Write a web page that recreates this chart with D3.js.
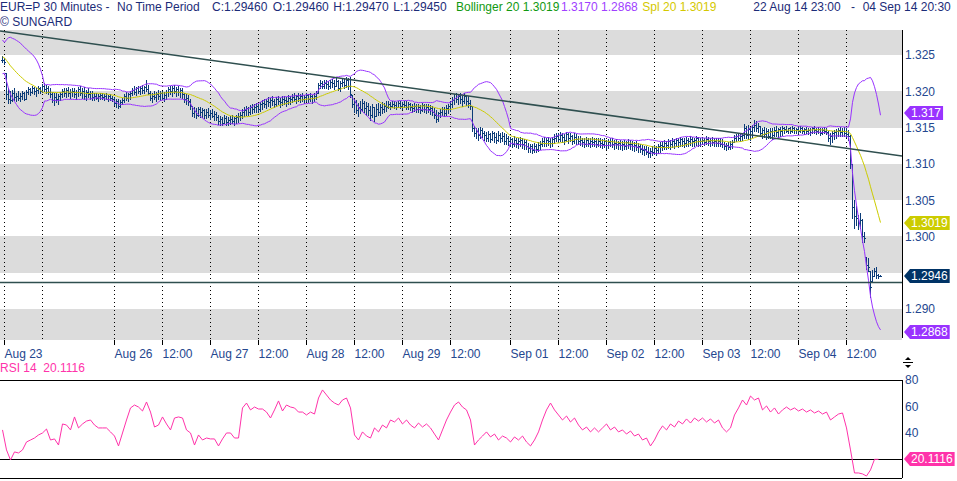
<!DOCTYPE html>
<html>
<head>
<meta charset="utf-8">
<script src="https://cdn.jsdelivr.net/npm/d3@7"></script>
<style>
  body { margin: 0; background: #fff; }
  svg { display: block; font-family: "Liberation Sans", Arial, sans-serif; }
</style>
</head>
<body>
<div id="chart-container"></div>
<script>
// Prices are kept in pips above 1.2900 (1 pip = 0.0001), one entry per 30 minute bar
var BASE = 1.29, PIP = 0.0001;

var highs = [
  348,346,325,305,300,302,304,298,300,297,301,299,302,306,305,307,306,305,307,306,310,311,309,308,305,299,297,298,296,299,
  303,305,304,306,303,305,304,302, 306,307,305,306,302,304,301,300, 297,298,296,297,298,296,297,295,296,294,
  292,290,289,288,291, 296,299,298,301, 305,307,306,308,307,309,308,315,309, 300,298,301,299,302,300,301,299,302,
  306,308,307,309,306,308,305,304, 298,296,295,290, 280,278,277,279,278, 277,276,275,277,274,276,273,272,
  267,266,265,267,266,264,266,267,265,268,270,272, 275,278,280,279,281,283,282,284,283,285,
  288,290,289,292,291,293,290,292,294,291,293,294,292,295,293, 296,297,295,298,296,297,295,298,296,297,295,298,300,
  312,315,314,316,315,314,316, 317,315,318,316,314,319,317,320,318, 320, 295,290,288,284,286,289,287,285,
  284,280,283,279,282,284,283,285,284,286, 286,285,287,286,285,287,286,285,287,286,285,284,
  283,284,282,283,281,284,283,282,283,281,280, 277,274,272,276, 279,278,281,283,286,
  292,296,298,295,297,294,297,295,293,288, 280, 252,250,249,251,250, 246,244,245,243,246,244,242,245,243,244,242,241,
  238,237,236,238,236,235,237,235,234,233, 229,228,227,229,228,230,232, 235,237,236,237,235,237,
  241,243,242,244,243,241,244,242,243,240,242,241,239,238, 236,235,237,236,235,237,236,235,236,235,
  234,235,233,234,236,235,233,234,232,233,231,233,232,234,233,231,230,231,229,228, 226,224,225,223,222,224,226,225,228,230,
  231,233,232,234,233,235,234,236,235,237,236,235,237,236,238,237,236,238,237,236, 237,236,238,237,236,237,236,235,236,235,234,
  230,229,230,231,233, 240,241,242,241,243, 255,252,253,251,254, 260,259,257,
  252,250,251,249,248,250,249,251,252,250,251,252, 251,252,250,251,252,251,250,251,252,
  251,250,251,250,249,251,252,250,251,249,250,251,250, 246,243,245,247,248, 250,251,250,251,249,247,
  240,200,150,142,130,133,124,106,72,70,52,54,57,58,48,47
];

var lows = [
  340,338,290,284,284,286,288,286,288,286,289,288,290,296,295,297,296,294,298,297,299,300,298,296,292,285,281,285,283,288,
  292,293,292,294,291,293,292,290, 293,295,291,290,288,292,289,288, 288,289,287,289,290,288,289,287,288,286,
  281,278,277,279,282, 285,288,287,290, 295,296,295,297,296,298,297,300,296, 288,285,289,287,290,288,289,286,290,
  294,296,293,297,294,295,292,291, 285,282,281,276, 266,264,263,266,265, 264,263,263,265,262,264,261,260,
  255,253,254,256,254,253,255,256,254,257,258,260, 263,266,268,267,269,270,271,272,271,273,
  276,278,277,280,279,281,278,280,282,279,281,283,280,283,282, 285,286,284,287,285,286,284,287,285,286,284,287,289,
  298,305,304,305,304,303,305, 306,303,307,302,300,307,304,306,303, 292, 278,272,270,266,270,273,271,268,
  268,261,265,259,266,268,267,270,271,273, 277,276,278,277,276,278,277,276,278,276,275,274,
  272,273,271,272,270,273,271,270,272,269,268, 263,258,259,264, 267,266,268,270,273,
  279,283,285,282,284,280,284,281,279,275, 245, 238,235,233,236,237, 233,231,232,230,233,230,229,232,230,231,228,227,
  226,224,223,225,223,222,225,222,221,220, 217,216,215,217,216,218,220, 224,225,224,226,223,225,
  229,231,230,232,230,228,231,229,231,228,229,228,227,226, 225,223,225,224,223,225,224,223,224,223,
  222,223,221,222,224,223,221,222,220,221,219,221,220,222,221,219,218,219,217,216, 214,212,213,210,209,212,213,212,215,217,
  219,220,220,222,221,223,222,224,223,225,224,223,225,224,226,225,224,226,225,225, 227,226,227,226,225,226,225,224,225,224,223,
  220,219,220,221,222, 230,231,233,232,233, 236,235,234,233,237, 246,245,244,
  238,236,237,234,235,236,234,238,239,237,238,240, 243,244,242,243,244,242,242,243,244,
  242,241,243,241,240,242,243,241,242,240,241,242,241, 232,228,230,234,236, 238,239,238,239,237,233,
  195,125,112,116,110,112,92,92,55,52,17,38,45,43,43,45
];

var closes = [
  343,341,296,290,288,298,292,294,291,293,298,290,299,303,299,304,300,302,305,300,307,303,305,299,296,288,292,290,294,296,
  300,297,302,298,299,301,296,299, 303,298,301,294,299,296,297,292, 294,291,293,295,292,294,290,293,291,289,
  284,286,280,285,288, 293,291,296,298, 302,299,304,301,305,302,306,303,298, 291,294,292,296,293,297,291,295,299,
  303,300,305,301,303,299,302,296, 289,291,286,280, 270,273,268,275,271, 274,267,271,268,270,266,269,264,
  259,262,257,263,258,261,262,259,263,264,266,268, 271,274,277,272,278,276,279,280,276,282,
  284,282,286,285,288,286,283,289,287,285,290,288,286,291,289, 292,290,293,291,294,289,292,295,290,293,291,294,297,
  309,311,308,312,310,307,313, 311,308,314,305,311,313,309,315,307, 296, 282,285,274,279,276,284,277,280,
  274,268,278,266,276,272,279,276,280,279, 282,280,283,281,279,284,280,282,281,279,282,278,
  277,280,275,279,274,281,276,278,275,277,272, 267,262,270,272, 275,270,277,280,283,
  288,291,289,293,290,286,293,287,284,280, 250, 243,246,240,247,242, 240,236,241,234,242,237,233,240,235,239,232,236,
  231,234,228,233,229,231,233,227,230,225, 222,224,219,225,221,226,228, 231,229,233,231,229,234,
  236,239,234,240,237,233,241,235,238,232,237,234,231,233, 230,228,233,229,231,230,232,228,231,229,
  228,231,226,230,232,228,229,227,229,226,228,225,230,228,227,224,226,223,225,221, 219,220,217,215,218,216,222,219,224,226,
  225,229,226,231,228,232,229,233,230,234,231,229,233,232,234,231,233,235,232,231, 233,230,234,231,233,230,232,229,231,228,227,
  224,226,223,227,230, 236,238,236,239,240, 250,240,248,246,251, 254,250,252,
  243,247,241,245,238,246,240,247,244,248,245,249, 248,246,249,245,250,247,248,246,249,
  245,248,246,247,244,249,247,245,248,243,247,246,244, 236,238,242,244,246, 247,244,246,243,241,238,
  200,140,128,125,118,122,100,98,60,58,30,45,52,47,46,46
];

// The 19 closes before the first bar, read back from where the bands start
var preCloses = [369,367,363,365,359,355,352,349,345,347,342,339,335,333,331,335,337,341,343];

// RSI 14, one reading for every second bar
var rsiValues = [
  42.3,27.2,19.6,25.7,24.9,27.2,33.2,34.7,36.2,38.5, 40,43,34.7,35.5,30.9,46.8,46,42.3,52.1,43.8,
  46.8,49,49.8,46,43.8,43.8,43.8,40.8,37.7,30.2, 40,49.8,58.9,61.1,59.6,56.6,63.4,55.8,44.5,46,
  52.1,46.8,42.3,51.3,52.1,51.3,42.3,40,30.9,38.5, 34.7,36.2,35.5,35.5,30.2,35.5,40,40,36.2,36.2,
  58.9,62.6,57.4,59.6,58.1,58.1,55.8,51.3,57.4,64.2, 56.6,61.1,59.6,58.9,55.8,
  55.8,53.6,55.8,54.3,66.4,72.5,68.7,64.9,62.6,61.1, 64.9,66.4,58.9,38.5,34.7,40.8,37.7,36.2,43.8,40.8,
  46,43.8,49.8,48.3,51.3,46.8,49.8,46,43.8,47.5, 44.5,46.8,43.8,39.2,34.7,42.3,49.8,55.8,61.1,63.4,
  59.6,57.4,49.8,30.9,34.7,37.7,40.8,37,39.2,34.7, 37.7,36.2,33.2,37,34.7,37.7,33.2,30.2,34.7,40.8,
  49.8,57.4,62.6,57.4,53.6,49.8,52.8,48.3,51.3,46, 42.3,44.5,40.8,43.8,40.8,43.8,46.8,42.3,44.5,40.8,
  42.3,39.2,41.5,37.7,39.2,34.7,36.2,30.2,34.7,40.8, 45.3,42.3,46.8,44.5,49,46.8,50.6,47.5,51.3,49,
  51.3,48.3,50.6,47.5,49.8,43.8,40.8,43.8,53.6,58.9, 64.9,61.1,67.9,64.9,66.4,57.4,60.4,55.8,58.9,54.3,
  57.4,59.6,57.4,58.9,56.6,58.1,55.8,57.4,55.1,56.6, 54.3,55.8,49.8,52.1,54.3,55.1,43.8,27.2,9.8,9.8,
  9.1,7.5,12.1,20.1,20.1
];

// Time axis: bar index of each tick and its label
var tickBars = [1, 56, 80, 104, 128, 152, 176, 200, 224, 254, 278, 302, 326, 350, 374, 398, 422];
var tickLabels = ["Aug 23", "Aug 26", "12:00", "Aug 27", "12:00", "Aug 28", "12:00", "Aug 29", "12:00",
                  "Sep 01", "12:00", "Sep 02", "12:00", "Sep 03", "12:00", "Sep 04", "12:00"];
var extraGridBars = [20];

// 1.295 and RSI 20 sit under the value tags, so they are not written
var priceTicks = [1.290, 1.300, 1.305, 1.310, 1.315, 1.320, 1.325];
var rsiTicks = [40, 60, 80];
var rsiLevels = [20, 80];

// Drawn lines: trend line from (bar, price) to (bar, price) and a flat level
var trendLine = [[-1, 1.3283], [450, 1.3111]];
var levelLine = 1.2937;

// Last values shown in the right hand tags
var tagValues = [1.3170, 1.3019, 1.2946, 1.2868];
var tagTexts = ["1.317", "1.3019", "1.2946", "1.2868"];
var rsiLast = "20.1116";

var navy = "#1c2c78", axisBlue = "#24478f", barBlue = "#0c3c78";
var purple = "#9933ff", yellow = "#cccc00", pink = "#ff33aa", slate = "#2f4f4f";

var width = 957, height = 481;
var plotRight = 902, priceTop = 30, priceBottom = 340, rsiTop = 380, rsiBottom = 478;

var svg = d3.select("#chart-container")
    .append("svg")
    .attr("width", width)
    .attr("height", height);

svg.append("clipPath").attr("id", "clip-price")
    .append("rect").attr("x", 0).attr("y", priceTop).attr("width", plotRight).attr("height", priceBottom - priceTop);

var n = Math.min(highs.length, lows.length, closes.length);

// Scales
var x = d3.scaleLinear().domain([0, n - 1]).range([2, 2 + 2 * (n - 1)]);
var y = d3.scaleLinear().domain([1.28573, 1.32845]).range([priceBottom, priceTop]);
var rsiY = d3.scaleLinear().domain([6, 80]).range([rsiBottom, rsiTop]);

function px(p) { return BASE + p * PIP; }

// Bars, open = previous close kept inside the bar's range
var bars = d3.range(n).map(function(i) {
    var prev = i > 0 ? closes[i - 1] : preCloses[preCloses.length - 1];
    var o = Math.max(lows[i], Math.min(highs[i], prev));
    return {i: i, h: px(highs[i]), l: px(lows[i]), o: px(o), c: px(closes[i])};
});

// Bollinger 20 (2 sd) and the simple 20 average
var allCloses = preCloses.concat(closes.slice(0, n)).map(px);
var bands = d3.range(n).map(function(i) {
    var win = allCloses.slice(i, i + 20);
    var m = d3.mean(win);
    var sd = Math.sqrt(d3.mean(win, function(v) { return (v - m) * (v - m); }));
    return {i: i, mid: m, up: m + 2 * sd, lo: m - 2 * sd};
});

var price = svg.append("g").attr("clip-path", "url(#clip-price)");

// Alternate grey bands every 0.005
d3.range(1.285, 1.3301, 0.01).forEach(function(v) {
    price.append("rect")
        .attr("x", 0)
        .attr("width", plotRight)
        .attr("y", Math.round(y(v + 0.005)))
        .attr("height", Math.round(y(v)) - Math.round(y(v + 0.005)))
        .attr("fill", "#dcdcdc");
});

// Dotted day / half day lines
price.selectAll(".grid")
    .data(extraGridBars.concat(tickBars))
    .enter().append("line")
    .attr("x1", function(d) { return x(d) + 0.5; })
    .attr("x2", function(d) { return x(d) + 0.5; })
    .attr("y1", priceTop)
    .attr("y2", priceBottom)
    .attr("stroke", "#000")
    .attr("stroke-dasharray", "1,3");

// OHLC bars
var barG = price.append("g").attr("fill", barBlue).attr("shape-rendering", "crispEdges");
barG.selectAll(".hl").data(bars).enter().append("rect")
    .attr("x", function(d) { return Math.round(x(d.i)); })
    .attr("width", 1)
    .attr("y", function(d) { return Math.round(y(d.h)); })
    .attr("height", function(d) { return Math.max(1, Math.round(y(d.l)) - Math.round(y(d.h)) + 1); });
barG.selectAll(".op").data(bars).enter().append("rect")
    .attr("x", function(d) { return Math.round(x(d.i)) - 1; })
    .attr("width", 1)
    .attr("y", function(d) { return Math.round(y(d.o)); })
    .attr("height", 1);
barG.selectAll(".cl").data(bars).enter().append("rect")
    .attr("x", function(d) { return Math.round(x(d.i)) + 1; })
    .attr("width", 1)
    .attr("y", function(d) { return Math.round(y(d.c)); })
    .attr("height", 1);

// Band lines
function bandLine(key) {
    return d3.line()
        .x(function(d) { return x(d.i) + 0.5; })
        .y(function(d) { return y(d[key]); });
}
price.append("path").datum(bands).attr("fill", "none").attr("stroke", purple).attr("d", bandLine("up"));
price.append("path").datum(bands).attr("fill", "none").attr("stroke", purple).attr("d", bandLine("lo"));
price.append("path").datum(bands).attr("fill", "none").attr("stroke", yellow).attr("d", bandLine("mid"));

// Trend line and level
price.append("line")
    .attr("x1", x(trendLine[0][0])).attr("y1", y(trendLine[0][1]))
    .attr("x2", x(trendLine[1][0])).attr("y2", y(trendLine[1][1]))
    .attr("stroke", slate).attr("stroke-width", 1.5);
price.append("line")
    .attr("x1", 0).attr("x2", plotRight)
    .attr("y1", Math.round(y(levelLine)) + 0.5).attr("y2", Math.round(y(levelLine)) + 0.5)
    .attr("stroke", slate).attr("stroke-width", 1.3);

// Right price axis
var yAxisG = svg.append("g")
    .attr("transform", "translate(" + plotRight + ",0)")
    .call(d3.axisRight(y).tickValues(priceTicks).tickSize(0).tickPadding(3).tickFormat(d3.format(".3f")));
yAxisG.select(".domain").remove();
yAxisG.attr("font-size", 12).attr("font-family", null).selectAll("text").attr("fill", axisBlue);

svg.append("line")
    .attr("x1", plotRight + 0.5).attr("x2", plotRight + 0.5)
    .attr("y1", priceTop).attr("y2", priceBottom - 2)
    .attr("stroke", "#000");

// Time axis
var xAxisG = svg.append("g")
    .attr("transform", "translate(0," + priceBottom + ")")
    .call(d3.axisBottom(x).tickValues(tickBars).tickSize(5).tickPadding(4)
        .tickFormat(function(d, k) { return tickLabels[k]; }));
xAxisG.select(".domain").remove();
xAxisG.attr("font-size", 12).attr("font-family", null);
xAxisG.selectAll("text").attr("text-anchor", "start").attr("fill", axisBlue);

// Price tags
function tag(yPos, text, fill) {
    var g = svg.append("g");
    var t = g.append("text")
        .attr("x", 911)
        .attr("y", yPos)
        .attr("dy", "0.36em")
        .attr("fill", "#fff")
        .style("font-size", "12px")
        .text(text);
    var w = t.node().getComputedTextLength();
    g.insert("path", "text")
        .attr("d", "M904," + yPos + "L910," + (yPos - 7) + "H" + (913 + w) + "V" + (yPos + 7) + "H910Z")
        .attr("fill", fill);
}
var tagColors = [purple, yellow, "#003366", purple];
tagValues.forEach(function(v, k) { tag(Math.round(y(v)), tagTexts[k], tagColors[k]); });

// RSI panel
var rsi = svg.append("g");
rsiLevels.forEach(function(v) {
    rsi.append("line")
        .attr("x1", 0).attr("x2", plotRight)
        .attr("y1", Math.round(rsiY(v)) + 0.5).attr("y2", Math.round(rsiY(v)) + 0.5)
        .attr("stroke", "#000");
});
rsi.append("line")
    .attr("x1", 0).attr("x2", plotRight)
    .attr("y1", rsiBottom + 0.5).attr("y2", rsiBottom + 0.5)
    .attr("stroke", "#000");
rsi.append("line")
    .attr("x1", plotRight + 0.5).attr("x2", plotRight + 0.5)
    .attr("y1", rsiTop).attr("y2", rsiBottom)
    .attr("stroke", "#000");

rsi.append("path")
    .datum(rsiValues)
    .attr("fill", "none")
    .attr("stroke", pink)
    .attr("d", d3.line()
        .x(function(d, k) { return x(2 * k) + 0.5; })
        .y(function(d) { return rsiY(d); }));

var rsiAxisG = svg.append("g")
    .attr("transform", "translate(" + plotRight + ",0)")
    .call(d3.axisRight(rsiY).tickValues(rsiTicks).tickSize(0).tickPadding(3));
rsiAxisG.select(".domain").remove();
rsiAxisG.attr("font-size", 12).attr("font-family", null).selectAll("text").attr("fill", axisBlue);

tag(Math.round(rsiY(+rsiLast)), rsiLast, pink);

// Resize handle between the panels
var handle = svg.append("g").attr("fill", "#000").attr("stroke", "#000");
handle.append("line").attr("x1", 903).attr("x2", 913).attr("y1", 362.5).attr("y2", 362.5);
handle.append("path").attr("stroke", "none").attr("d", "M905,360L911,360L908,357Z");
handle.append("path").attr("stroke", "none").attr("d", "M905,365L911,365L908,368Z");

// Header texts
function label(xPos, yPos, text, color) {
    svg.append("text")
        .attr("x", xPos)
        .attr("y", yPos)
        .attr("fill", color)
        .style("font-size", "12px")
        .style("white-space", "pre")
        .text(text);
}
label(0, 11, "EUR=P 30 Minutes -", navy);
label(117, 11, "No Time Period", navy);
label(212, 11, "C:1.29460", navy);
label(272.7, 11, "O:1.29460", navy);
label(333.3, 11, "H:1.29470", navy);
label(393.3, 11, "L:1.29450", navy);
label(456, 11, "Bollinger 20 1.3019", "#119911");
label(561, 11, "1.3170 1.2868", "#a040ff");
label(642.3, 11, "Spl 20 1.3019", "#d4c800");
label(753.3, 11, "22 Aug 14 23:00", navy);
label(851, 11, "-", navy);
label(862.7, 11, "04 Sep 14 20:30", navy);
label(0, 26, "\u00a9 SUNGARD", navy);
label(0, 372, "RSI 14", pink);
label(43.3, 372, rsiLast, pink);
</script>
</body>
</html>
